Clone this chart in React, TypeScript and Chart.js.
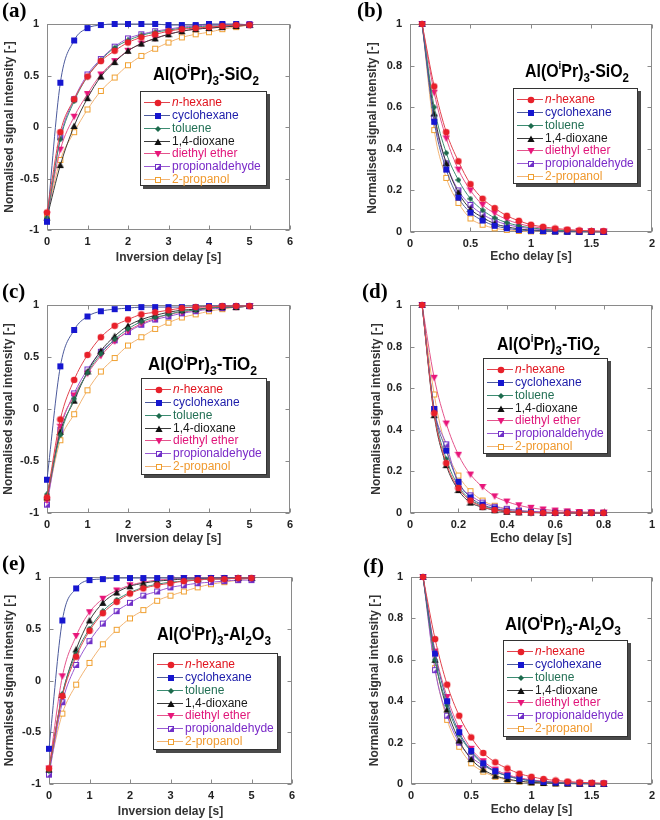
import React, { useEffect, useRef } from "react";
import { Chart, registerables } from "chart.js";
Chart.register(...registerables);

const FONT = 'Arial, "Liberation Sans", Helvetica, sans-serif';
const SERIF = '"Times New Roman", "Liberation Serif", serif';

const SERIES = ["n-hexane", "cyclohexane", "toluene", "1,4-dioxane", "diethyl ether", "propionaldehyde", "2-propanol"];

// x values
const INVERSION_DELAY = [0, 0.33, 0.67, 1, 1.33, 1.67, 2, 2.33, 2.67, 3, 3.33, 3.67, 4, 4.33, 4.67, 5];
const ECHO_DELAY_LONG = [0.1, 0.2, 0.3, 0.4, 0.5, 0.6, 0.7, 0.8, 0.9, 1.0, 1.1, 1.2, 1.3, 1.4, 1.5, 1.6];
const ECHO_DELAY_SHORT = [0.05, 0.1, 0.15, 0.2, 0.25, 0.3, 0.35, 0.4, 0.45, 0.5, 0.55, 0.6, 0.65, 0.7, 0.75, 0.8];

// tick labels
const T1_X_TICKS = [0, 1, 2, 3, 4, 5, 6];
const T1_Y_TICKS = [-1, -0.5, 0, 0.5, 1];
const ECHO_X_TICKS_LONG = [0, 0.5, 1, 1.5, 2];
const ECHO_X_TICKS_SHORT = [0, 0.2, 0.4, 0.6, 0.8, 1];
const ECHO_Y_TICKS = [0, 0.2, 0.4, 0.6, 0.8, 1];

// (a) Al(OiPr)3-SiO2 inversion recovery
const A_NHEX = [-0.83, -0.05, 0.27, 0.49, 0.64, 0.74, 0.82, 0.87, 0.9, 0.93, 0.95, 0.96, 0.97, 0.98, 0.99, 0.99];
const A_CYC = [-0.92, 0.43, 0.84, 0.96, 0.99, 1.0, 1.0, 1.0, 1.0, 0.99, 0.99, 0.99, 1.0, 1.0, 1.0, 0.99];
const A_TOL = [-0.88, -0.12, 0.25, 0.49, 0.65, 0.77, 0.84, 0.89, 0.92, 0.94, 0.96, 0.97, 0.98, 0.98, 0.99, 0.99];
const A_DIOX = [-0.88, -0.37, 0.01, 0.28, 0.49, 0.63, 0.74, 0.81, 0.86, 0.9, 0.93, 0.95, 0.96, 0.97, 0.98, 0.99];
const A_DEE = [-0.85, -0.22, 0.1, 0.32, 0.51, 0.64, 0.74, 0.81, 0.86, 0.9, 0.93, 0.95, 0.96, 0.97, 0.98, 0.99];
const A_PROP = [-0.91, -0.1, 0.27, 0.51, 0.66, 0.78, 0.86, 0.9, 0.93, 0.95, 0.97, 0.98, 0.99, 0.99, 0.99, 1.0];
const A_IPA = [-0.85, -0.32, -0.05, 0.17, 0.35, 0.48, 0.6, 0.69, 0.76, 0.82, 0.87, 0.9, 0.92, 0.95, 0.97, 0.99];

// (b) Al(OiPr)3-SiO2 echo decay
const B_NHEX = [1, 0.7, 0.48, 0.34, 0.23, 0.16, 0.115, 0.078, 0.054, 0.035, 0.025, 0.017, 0.012, 0.008, 0.005, 0.004];
const B_CYC = [1, 0.53, 0.3, 0.165, 0.093, 0.055, 0.03, 0.018, 0.01, 0.006, 0.004, 0.002, 0.001, 0.001, 0.001, 0];
const B_TOL = [1, 0.6, 0.38, 0.25, 0.16, 0.105, 0.068, 0.045, 0.03, 0.02, 0.013, 0.009, 0.006, 0.004, 0.003, 0.002];
const B_DIOX = [1, 0.57, 0.33, 0.19, 0.11, 0.07, 0.04, 0.025, 0.015, 0.009, 0.006, 0.004, 0.003, 0.002, 0.001, 0.001];
const B_DEE = [1, 0.67, 0.45, 0.3, 0.2, 0.13, 0.09, 0.06, 0.04, 0.027, 0.018, 0.012, 0.008, 0.005, 0.004, 0.003];
const B_PROP = [1, 0.55, 0.33, 0.2, 0.13, 0.085, 0.055, 0.036, 0.024, 0.016, 0.011, 0.008, 0.005, 0.004, 0.003, 0.002];
const B_IPA = [1, 0.49, 0.26, 0.14, 0.065, 0.035, 0.018, 0.01, 0.005, 0.003, 0.002, 0.001, 0.001, 0, 0, 0];

// (c) Al(OiPr)3-TiO2 inversion recovery
const C_NHEX = [-0.85, -0.1, 0.28, 0.52, 0.69, 0.8, 0.86, 0.91, 0.93, 0.95, 0.97, 0.98, 0.98, 0.99, 0.99, 0.99];
const C_CYC = [-0.68, 0.41, 0.76, 0.89, 0.94, 0.96, 0.97, 0.98, 0.98, 0.98, 0.98, 0.98, 0.99, 0.99, 0.99, 0.99];
const C_TOL = [-0.82, -0.25, 0.1, 0.35, 0.53, 0.67, 0.77, 0.84, 0.88, 0.91, 0.94, 0.95, 0.97, 0.98, 0.98, 0.99];
const C_DIOX = [-0.85, -0.22, 0.08, 0.36, 0.56, 0.7, 0.8, 0.86, 0.9, 0.93, 0.95, 0.96, 0.97, 0.98, 0.98, 0.99];
const C_DEE = [-0.88, -0.17, 0.13, 0.34, 0.51, 0.65, 0.75, 0.82, 0.87, 0.91, 0.93, 0.95, 0.97, 0.98, 0.98, 0.99];
const C_PROP = [-0.92, -0.2, 0.15, 0.38, 0.55, 0.66, 0.74, 0.81, 0.86, 0.89, 0.92, 0.94, 0.96, 0.97, 0.98, 0.99];
const C_IPA = [-0.87, -0.3, -0.05, 0.18, 0.36, 0.49, 0.61, 0.69, 0.77, 0.83, 0.88, 0.91, 0.94, 0.96, 0.98, 0.99];

// (d) Al(OiPr)3-TiO2 echo decay
const D_NHEX = [1, 0.48, 0.24, 0.12, 0.06, 0.03, 0.015, 0.008, 0.004, 0.002, 0.001, 0.001, 0, 0, 0, 0];
const D_CYC = [1, 0.5, 0.3, 0.15, 0.075, 0.04, 0.022, 0.012, 0.007, 0.004, 0.002, 0.001, 0.001, 0, 0, 0];
const D_TOL = [1, 0.49, 0.26, 0.13, 0.065, 0.035, 0.02, 0.01, 0.006, 0.003, 0.002, 0.001, 0, 0, 0, 0];
const D_DIOX = [1, 0.47, 0.23, 0.11, 0.05, 0.028, 0.013, 0.006, 0.003, 0.002, 0.001, 0, 0, 0, 0, 0];
const D_DEE = [1, 0.65, 0.43, 0.28, 0.185, 0.125, 0.08, 0.055, 0.037, 0.025, 0.017, 0.012, 0.008, 0.005, 0.004, 0.003];
const D_PROP = [1, 0.5, 0.33, 0.14, 0.085, 0.05, 0.03, 0.02, 0.012, 0.008, 0.005, 0.003, 0.002, 0.001, 0.001, 0];
const D_IPA = [1, 0.57, 0.31, 0.18, 0.105, 0.06, 0.035, 0.02, 0.012, 0.007, 0.004, 0.003, 0.002, 0.001, 0.001, 0];

// (e) Al(OiPr)3-Al2O3 inversion recovery
const E_NHEX = [-0.85, -0.15, 0.23, 0.48, 0.65, 0.76, 0.84, 0.89, 0.92, 0.94, 0.96, 0.97, 0.98, 0.98, 0.99, 0.99];
const E_CYC = [-0.66, 0.58, 0.89, 0.97, 0.98, 0.99, 0.99, 0.99, 0.99, 0.99, 0.99, 0.99, 0.99, 0.99, 0.99, 0.99];
const E_TOL = [-0.87, -0.13, 0.26, 0.5, 0.67, 0.78, 0.85, 0.9, 0.93, 0.95, 0.96, 0.97, 0.98, 0.98, 0.99, 0.99];
const E_DIOX = [-0.86, -0.14, 0.3, 0.58, 0.75, 0.85, 0.91, 0.94, 0.96, 0.97, 0.98, 0.98, 0.99, 0.99, 0.99, 0.99];
const E_DEE = [-0.85, 0.04, 0.43, 0.66, 0.79, 0.87, 0.92, 0.95, 0.97, 0.98, 0.99, 0.99, 0.99, 0.99, 0.99, 0.99];
const E_PROP = [-0.91, -0.21, 0.15, 0.38, 0.55, 0.67, 0.75, 0.82, 0.86, 0.9, 0.92, 0.94, 0.95, 0.96, 0.97, 0.97];
const E_IPA = [-0.86, -0.32, -0.04, 0.17, 0.35, 0.49, 0.6, 0.68, 0.77, 0.82, 0.86, 0.9, 0.93, 0.95, 0.97, 0.99];

// (f) Al(OiPr)3-Al2O3 echo decay
const F_NHEX = [1, 0.7, 0.48, 0.33, 0.225, 0.15, 0.105, 0.075, 0.05, 0.035, 0.024, 0.017, 0.012, 0.008, 0.006, 0.004];
const F_CYC = [1, 0.63, 0.4, 0.25, 0.16, 0.1, 0.062, 0.04, 0.025, 0.016, 0.01, 0.007, 0.004, 0.003, 0.002, 0.001];
const F_TOL = [1, 0.6, 0.38, 0.24, 0.155, 0.095, 0.06, 0.038, 0.024, 0.015, 0.01, 0.006, 0.004, 0.003, 0.002, 0.001];
const F_DIOX = [1, 0.6, 0.36, 0.21, 0.12, 0.07, 0.04, 0.024, 0.014, 0.008, 0.005, 0.003, 0.002, 0.001, 0.001, 0];
const F_DEE = [1, 0.64, 0.42, 0.27, 0.17, 0.11, 0.07, 0.045, 0.03, 0.02, 0.013, 0.009, 0.006, 0.004, 0.003, 0.002];
const F_PROP = [1, 0.55, 0.33, 0.2, 0.13, 0.09, 0.06, 0.04, 0.027, 0.018, 0.012, 0.008, 0.005, 0.004, 0.003, 0.002];
const F_IPA = [1, 0.56, 0.31, 0.18, 0.1, 0.06, 0.035, 0.02, 0.012, 0.007, 0.004, 0.003, 0.002, 0.001, 0.001, 0];

const STYLES = [
  { line: "#e2444e", text: "#e0141e", marker: "circle", color: "#e8202a" },
  { line: "#4c5a9c", text: "#1c1caa", marker: "square", color: "#1616d0" },
  { line: "#3c8c72", text: "#237055", marker: "diamond", color: "#1d6b4d" },
  { line: "#3a3a3a", text: "#1a1a1a", marker: "triangle", color: "#111111" },
  { line: "#e4548c", text: "#e0157a", marker: "triangleDown", color: "#e8157a" },
  { line: "#9a5ad2", text: "#7a2ac8", marker: "halfSquare", color: "#7030c8" },
  { line: "#f2b474", text: "#f09a30", marker: "openSquare", color: "#f0a030" },
];

let MARKERS: HTMLCanvasElement[] | null = null;
function getMarkers() {
  if (MARKERS) return MARKERS;
  MARKERS = STYLES.map((st) => {
    const c = document.createElement("canvas");
    const s = st.marker === "diamond" ? 6 : 8;
    c.width = s;
    c.height = s;
    const g = c.getContext("2d")!;
    g.fillStyle = st.color;
    g.strokeStyle = st.color;
    g.lineWidth = 1;
    switch (st.marker) {
      case "circle":
        g.beginPath();
        g.arc(4, 4, 3.3, 0, Math.PI * 2);
        g.fill();
        break;
      case "square":
        g.fillRect(1, 1, 6, 6);
        break;
      case "diamond":
        g.beginPath();
        g.moveTo(3, 0);
        g.lineTo(6, 3);
        g.lineTo(3, 6);
        g.lineTo(0, 3);
        g.closePath();
        g.fill();
        break;
      case "triangle":
        g.beginPath();
        g.moveTo(4, 0.5);
        g.lineTo(7.6, 7);
        g.lineTo(0.4, 7);
        g.closePath();
        g.fill();
        break;
      case "triangleDown":
        g.beginPath();
        g.moveTo(0.4, 1);
        g.lineTo(7.6, 1);
        g.lineTo(4, 7.5);
        g.closePath();
        g.fill();
        break;
      case "halfSquare":
        g.fillStyle = "#ffffff";
        g.fillRect(1, 1, 6, 6);
        g.fillStyle = st.color;
        g.beginPath();
        g.moveTo(7, 1);
        g.lineTo(7, 7);
        g.lineTo(1, 7);
        g.closePath();
        g.fill();
        g.strokeRect(1.5, 1.5, 5, 5);
        break;
      case "openSquare":
        g.fillStyle = "#ffffff";
        g.fillRect(1, 1, 6, 6);
        g.strokeRect(1.5, 1.5, 5, 5);
        break;
    }
    return c;
  });
  return MARKERS;
}

type Part = { t: string; s: number; dy: number };
function titleParts(support: string): Part[] {
  const head: Part[] = [
    { t: "Al(O", s: 18, dy: 0 },
    { t: "i", s: 11, dy: -8 },
    { t: "Pr)", s: 18, dy: 0 },
    { t: "3", s: 13, dy: 5 },
  ];
  if (support === "Al2O3")
    return [...head, { t: "-Al", s: 18, dy: 0 }, { t: "2", s: 13, dy: 5 }, { t: "O", s: 18, dy: 0 }, { t: "3", s: 13, dy: 5 }];
  const el = support === "SiO2" ? "-SiO" : "-TiO";
  return [...head, { t: el, s: 18, dy: 0 }, { t: "2", s: 13, dy: 5 }];
}

const PANELS = [
  {
    label: "(a)", cx: 0, cy: 0, ch: 274, area: { l: 47, t: 24, r: 290, b: 230 },
    xs: INVERSION_DELAY, ys: [A_NHEX, A_CYC, A_TOL, A_DIOX, A_DEE, A_PROP, A_IPA],
    xMin: 0, xMax: 6, xTicks: T1_X_TICKS, yMin: -1, yMax: 1, yTicks: T1_Y_TICKS,
    xTitle: "Inversion delay [s]", xTitleY: 258, yTitleX: 10,
    support: "SiO2", titleX: 153, titleBase: 80, titleW: 106,
    legend: { x: 140, y: 91, w: 127, h: 95 }, labelX: 2, labelBase: 17,
  },
  {
    label: "(b)", cx: 330, cy: 0, ch: 274, area: { l: 410, t: 24, r: 652, b: 232 },
    xs: ECHO_DELAY_LONG, ys: [B_NHEX, B_CYC, B_TOL, B_DIOX, B_DEE, B_PROP, B_IPA],
    xMin: 0, xMax: 2, xTicks: ECHO_X_TICKS_LONG, yMin: 0, yMax: 1, yTicks: ECHO_Y_TICKS,
    xTitle: "Echo delay [s]", xTitleY: 257, yTitleX: 373,
    support: "SiO2", titleX: 525, titleBase: 77, titleW: 104,
    legend: { x: 513, y: 88, w: 125, h: 96 }, labelX: 357, labelBase: 17,
  },
  {
    label: "(c)", cx: 0, cy: 274, ch: 273, area: { l: 47, t: 305, r: 290, b: 513 },
    xs: INVERSION_DELAY, ys: [C_NHEX, C_CYC, C_TOL, C_DIOX, C_DEE, C_PROP, C_IPA],
    xMin: 0, xMax: 6, xTicks: T1_X_TICKS, yMin: -1, yMax: 1, yTicks: T1_Y_TICKS,
    xTitle: "Inversion delay [s]", xTitleY: 539, yTitleX: 9,
    support: "TiO2", titleX: 148, titleBase: 370, titleW: 109,
    legend: { x: 141, y: 378, w: 126, h: 97 }, labelX: 2, labelBase: 298,
  },
  {
    label: "(d)", cx: 330, cy: 274, ch: 273, area: { l: 410, t: 305, r: 652, b: 513 },
    xs: ECHO_DELAY_SHORT, ys: [D_NHEX, D_CYC, D_TOL, D_DIOX, D_DEE, D_PROP, D_IPA],
    xMin: 0, xMax: 1, xTicks: ECHO_X_TICKS_SHORT, yMin: 0, yMax: 1, yTicks: ECHO_Y_TICKS,
    xTitle: "Echo delay [s]", xTitleY: 539, yTitleX: 377,
    support: "TiO2", titleX: 497, titleBase: 350, titleW: 103,
    legend: { x: 483, y: 358, w: 125, h: 96 }, labelX: 362, labelBase: 298,
  },
  {
    label: "(e)", cx: 0, cy: 547, ch: 273, area: { l: 49, t: 577, r: 292, b: 784 },
    xs: INVERSION_DELAY, ys: [E_NHEX, E_CYC, E_TOL, E_DIOX, E_DEE, E_PROP, E_IPA],
    xMin: 0, xMax: 6, xTicks: T1_X_TICKS, yMin: -1, yMax: 1, yTicks: T1_Y_TICKS,
    xTitle: "Inversion delay [s]", xTitleY: 812, yTitleX: 10,
    support: "Al2O3", titleX: 157, titleBase: 640, titleW: 114,
    legend: { x: 153, y: 653, w: 125, h: 97 }, labelX: 2, labelBase: 570,
  },
  {
    label: "(f)", cx: 330, cy: 547, ch: 273, area: { l: 411, t: 577, r: 653, b: 784 },
    xs: ECHO_DELAY_LONG, ys: [F_NHEX, F_CYC, F_TOL, F_DIOX, F_DEE, F_PROP, F_IPA],
    xMin: 0, xMax: 2, xTicks: ECHO_X_TICKS_LONG, yMin: 0, yMax: 1, yTicks: ECHO_Y_TICKS,
    xTitle: "Echo delay [s]", xTitleY: 810, yTitleX: 375,
    support: "Al2O3", titleX: 505, titleBase: 630, titleW: 116,
    legend: { x: 503, y: 640, w: 125, h: 97 }, labelX: 363, labelBase: 573,
  },
];

function makeOverlay(cfg: any, markers: HTMLCanvasElement[]) {
  return {
    id: "overlay",
    beforeDatasetsDraw(chart: any) {
      const { ctx, chartArea: a } = chart;
      const xs = chart.scales.x;
      const ys = chart.scales.y;
      const L = Math.round(a.left) + 0.5;
      const R = Math.round(a.right) - 0.5;
      const T = Math.round(a.top) + 0.5;
      const B = Math.round(a.bottom) - 0.5;
      ctx.save();
      ctx.strokeStyle = "#8a8a8a";
      ctx.lineWidth = 1;
      ctx.strokeRect(L, T, R - L, B - T);
      ctx.beginPath();
      xs.ticks.forEach((t: any) => {
        const p = Math.round(xs.getPixelForValue(t.value)) + 0.5;
        ctx.moveTo(p, B); ctx.lineTo(p, B - 4);
        ctx.moveTo(p, T); ctx.lineTo(p, T + 4);
      });
      ys.ticks.forEach((t: any) => {
        const p = Math.round(ys.getPixelForValue(t.value)) + 0.5;
        ctx.moveTo(L, p); ctx.lineTo(L + 4, p);
        ctx.moveTo(R, p); ctx.lineTo(R - 4, p);
      });
      ctx.stroke();
      ctx.restore();
    },
    afterDraw(chart: any) {
      const ctx = chart.ctx as CanvasRenderingContext2D;
      const ox = cfg.cx;
      const oy = cfg.cy;
      ctx.save();
      // panel label
      ctx.fillStyle = "#000";
      ctx.textBaseline = "alphabetic";
      ctx.textAlign = "left";
      ctx.font = `bold 21px ${SERIF}`;
      ctx.fillText(cfg.label, cfg.labelX - ox, cfg.labelBase - oy);

      // title
      const parts = titleParts(cfg.support);
      let w = 0;
      parts.forEach((p) => {
        ctx.font = `bold ${p.s}px ${FONT}`;
        w += ctx.measureText(p.t).width;
      });
      const sx = cfg.titleW / w;
      ctx.save();
      ctx.translate(cfg.titleX - ox, cfg.titleBase - oy);
      ctx.scale(sx, 1);
      let px = 0;
      parts.forEach((p) => {
        ctx.font = `bold ${p.s}px ${FONT}`;
        ctx.fillText(p.t, px, p.dy);
        px += ctx.measureText(p.t).width;
      });
      ctx.restore();

      // legend
      const lg = cfg.legend;
      const lx = lg.x - ox;
      const ly = lg.y - oy;
      ctx.fillStyle = "#4a4a4a";
      ctx.fillRect(lx + 3, ly + 3, lg.w, lg.h);
      ctx.fillStyle = "#ffffff";
      ctx.fillRect(lx, ly, lg.w, lg.h);
      ctx.strokeStyle = "#333";
      ctx.lineWidth = 1;
      ctx.strokeRect(lx + 0.5, ly + 0.5, lg.w - 1, lg.h - 1);
      ctx.textBaseline = "middle";
      SERIES.forEach((name, i) => {
        const st = STYLES[i];
        const ry = Math.round(ly + 11 + i * 12.85) + 0.5;
        ctx.strokeStyle = st.line;
        ctx.beginPath();
        ctx.moveTo(lx + 4, ry);
        ctx.lineTo(lx + 30, ry);
        ctx.stroke();
        const m = markers[i];
        ctx.drawImage(m, Math.round(lx + 18 - m.width / 2), Math.round(ry - m.height / 2));
        ctx.fillStyle = st.text;
        let tx = lx + 32;
        if (name.startsWith("n-")) {
          ctx.font = `italic 12px ${FONT}`;
          ctx.fillText("n", tx, ry + 0.5);
          tx += ctx.measureText("n").width;
          ctx.font = `12px ${FONT}`;
          ctx.fillText(name.slice(1), tx, ry + 0.5);
        } else {
          ctx.font = `12px ${FONT}`;
          ctx.fillText(name, tx, ry + 0.5);
        }
      });
      ctx.restore();
    },
  };
}

function Panel({ cfg }: { cfg: any }) {
  const ref = useRef<HTMLCanvasElement | null>(null);
  useEffect(() => {
    const canvas = ref.current!;
    const markers = getMarkers();
    const cw = 330;
    const { cx, cy, ch, area } = cfg;
    const datasets = cfg.ys.map((ys: number[], i: number) => ({
      label: SERIES[i],
      data: cfg.xs.map((x: number, j: number) => ({ x, y: ys[j] })),
      borderColor: STYLES[i].line,
      borderWidth: 1,
      pointStyle: markers[i],
      pointRadius: 4,
      pointHoverRadius: 4,
      cubicInterpolationMode: "monotone",
      clip: false,
      fill: false,
    }));
    const tickFont = { family: FONT, size: 11, weight: "bold" as const };
    const titleFont = { family: FONT, size: 12, weight: "bold" as const };
    const xPadBottom = Math.max(0, cy + ch - cfg.xTitleY - 7.2);
    const chart = new Chart(canvas, {
      type: "line",
      data: { datasets },
      options: {
        responsive: false,
        animation: false,
        devicePixelRatio: 1,
        events: [],
        layout: { padding: { left: 0, top: area.t - cy, right: cx + cw - area.r, bottom: 0 } },
        plugins: { legend: { display: false }, tooltip: { enabled: false } },
        scales: {
          x: {
            type: "linear",
            min: cfg.xMin,
            max: cfg.xMax,
            afterBuildTicks: (s: any) => {
              s.ticks = cfg.xTicks.map((v: number) => ({ value: v }));
            },
            afterFit: (s: any) => {
              s.height = cy + ch - area.b;
            },
            grid: { display: false, drawTicks: false },
            border: { display: false },
            ticks: {
              padding: 5,
              color: "#222",
              font: tickFont,
              maxRotation: 0,
              autoSkip: false,
              callback: (v: any) => String(v),
            },
            title: {
              display: true,
              text: cfg.xTitle,
              color: "#333",
              font: titleFont,
              padding: { top: 0, bottom: xPadBottom },
            },
          },
          y: {
            type: "linear",
            min: cfg.yMin,
            max: cfg.yMax,
            afterBuildTicks: (s: any) => {
              s.ticks = cfg.yTicks.map((v: number) => ({ value: v }));
            },
            afterFit: (s: any) => {
              s.width = area.l - cx;
            },
            grid: { display: false, drawTicks: false },
            border: { display: false },
            ticks: {
              padding: 8,
              color: "#222",
              font: tickFont,
              autoSkip: false,
              callback: (v: any) => String(v),
            },
            title: {
              display: true,
              text: "Normalised signal intensity [-]",
              color: "#333",
              font: titleFont,
              padding: { top: Math.max(0, cfg.yTitleX - cx - 7.2), bottom: 0 },
            },
          },
        },
      },
      plugins: [makeOverlay(cfg, markers)],
    } as any);
    return () => chart.destroy();
  }, []);
  return (
    <canvas
      ref={ref}
      width={330}
      height={cfg.ch}
      style={{ position: "absolute", left: cfg.cx, top: cfg.cy, width: 330, height: cfg.ch }}
    />
  );
}

export default function App() {
  return (
    <div style={{ position: "absolute", left: 0, top: 0, width: 660, height: 820, background: "#fff", overflow: "hidden" }}>
      {PANELS.map((p) => (
        <Panel key={p.label} cfg={p} />
      ))}
    </div>
  );
}
